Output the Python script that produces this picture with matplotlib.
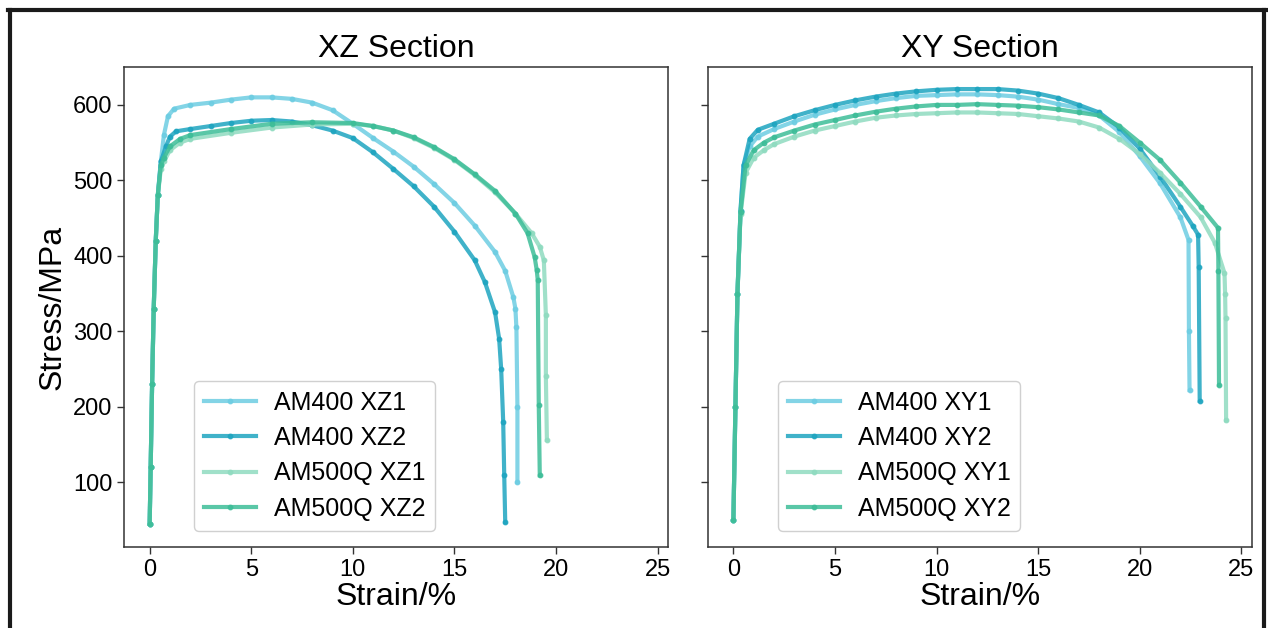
import matplotlib
matplotlib.use("Agg")
from matplotlib import pyplot as plt
from matplotlib.lines import Line2D

plt.rcParams['font.family'] = ['Liberation Sans', 'DejaVu Sans']

# ---- XZ section (strain %, stress MPa) ----
xz1_am400_strain = [0.0, 0.05, 0.12, 0.2, 0.3, 0.4, 0.55, 0.7, 0.9, 1.2, 2, 3, 4, 5, 6, 7, 8, 9, 10, 11, 12, 13, 14, 15, 16, 17, 17.5, 17.9, 18.0, 18.05, 18.1, 18.1]
xz1_am400_stress = [45, 120, 230, 330, 420, 480, 525, 560, 585, 595, 600, 603, 607, 610, 610, 608, 603, 593, 575, 556, 538, 518, 495, 470, 440, 405, 380, 345, 330, 305, 200, 100]

xz2_am400_strain = [0.0, 0.05, 0.12, 0.2, 0.3, 0.4, 0.55, 0.8, 1.0, 1.3, 2, 3, 4, 5, 6, 7, 8, 9, 10, 11, 12, 13, 14, 15, 16, 16.5, 17.0, 17.2, 17.3, 17.4, 17.45, 17.5]
xz2_am400_stress = [45, 120, 230, 330, 420, 480, 525, 545, 558, 565, 568, 572, 576, 579, 580, 578, 573, 566, 556, 537, 515, 492, 465, 432, 394, 365, 325, 290, 250, 180, 110, 47]

xz1_am500q_strain = [0.0, 0.05, 0.12, 0.2, 0.3, 0.4, 0.55, 0.7, 1.0, 1.5, 2, 4, 6, 8, 10, 11, 12, 13, 14, 15, 16, 17, 18, 18.8, 19.2, 19.4, 19.5, 19.5, 19.55]
xz1_am500q_stress = [45, 120, 230, 330, 420, 480, 515, 525, 540, 550, 555, 563, 570, 574, 575, 572, 566, 556, 543, 527, 507, 484, 456, 430, 412, 394, 321, 240, 156]

xz2_am500q_strain = [0.0, 0.05, 0.12, 0.2, 0.3, 0.4, 0.55, 0.7, 1.0, 1.5, 2, 4, 6, 8, 10, 11, 12, 13, 14, 15, 16, 17, 18, 18.6, 18.95, 19.05, 19.1, 19.15, 19.2]
xz2_am500q_stress = [45, 120, 230, 330, 420, 480, 520, 530, 545, 555, 560, 568, 575, 577, 576, 572, 566, 557, 544, 528, 508, 486, 456, 430, 398, 381, 368, 202, 109]

# ---- XY section ----
xy1_am400_strain = [0.0, 0.1, 0.2, 0.35, 0.5, 0.8, 1.2, 2, 3, 4, 5, 6, 7, 8, 9, 10, 11, 12, 13, 14, 15, 16, 17, 18, 19, 20, 21, 22, 22.4, 22.42, 22.45]
xy1_am400_stress = [50, 200, 350, 460, 520, 545, 558, 568, 578, 587, 594, 600, 605, 609, 612, 613, 614, 614, 613, 611, 607, 601, 596, 586, 564, 532, 496, 451, 421, 300, 222]

xy2_am400_strain = [0.0, 0.1, 0.2, 0.35, 0.5, 0.8, 1.2, 2, 3, 4, 5, 6, 7, 8, 9, 10, 11, 12, 13, 14, 15, 16, 17, 18, 19, 20, 21, 22, 22.6, 22.87, 22.9, 22.95]
xy2_am400_stress = [50, 200, 350, 460, 520, 555, 567, 575, 585, 593, 600, 606, 611, 615, 618, 620, 621, 621, 621, 619, 615, 609, 600, 590, 570, 542, 505, 465, 440, 428, 385, 208]

xy1_am500q_strain = [0.0, 0.1, 0.2, 0.35, 0.6, 1.0, 1.5, 2, 3, 4, 5, 6, 7, 8, 9, 10, 11, 12, 13, 14, 15, 16, 17, 18, 19, 20, 21, 22, 23, 23.7, 24.17, 24.2, 24.22, 24.25]
xy1_am500q_stress = [50, 200, 350, 455, 510, 530, 540, 548, 558, 566, 572, 578, 583, 586, 588, 589, 590, 590, 589, 588, 585, 582, 578, 570, 555, 535, 510, 482, 451, 417, 377, 350, 317, 182]

xy2_am500q_strain = [0.0, 0.1, 0.2, 0.35, 0.6, 1.0, 1.5, 2, 3, 4, 5, 6, 7, 8, 9, 10, 11, 12, 13, 14, 15, 16, 17, 18, 19, 20, 21, 22, 23, 23.85, 23.87, 23.9]
xy2_am500q_stress = [50, 200, 350, 458, 520, 540, 550, 557, 566, 574, 580, 586, 591, 595, 598, 600, 600, 601, 600, 599, 597, 594, 590, 586, 572, 550, 527, 497, 465, 437, 380, 229]

colors = ['#6dcde2', '#1ea5c0', '#8fdbc0', '#3dbd98']

fig, axes = plt.subplots(1, 2, figsize=(12.68, 6.28), dpi=100, sharey=True)
fig.subplots_adjust(left=0.098, right=0.987, bottom=0.129, top=0.893, wspace=0.074)

panels = [
    ("XZ Section", "XZ", [(xz1_am400_strain, xz1_am400_stress), (xz2_am400_strain, xz2_am400_stress),
                          (xz1_am500q_strain, xz1_am500q_stress), (xz2_am500q_strain, xz2_am500q_stress)]),
    ("XY Section", "XY", [(xy1_am400_strain, xy1_am400_stress), (xy2_am400_strain, xy2_am400_stress),
                          (xy1_am500q_strain, xy1_am500q_stress), (xy2_am500q_strain, xy2_am500q_stress)]),
]
names = ["AM400 {}1", "AM400 {}2", "AM500Q {}1", "AM500Q {}2"]

for ax, (title, sec, series) in zip(axes, panels):
    for (s, st), c, nm in zip(series, colors, names):
        ax.plot(s, st, color=c, lw=3.0, marker='o', markersize=3.2, alpha=0.85, label=nm.format(sec))
    ax.set_title(title, fontsize=23, pad=7)
    ax.set_xlabel("Strain/%", fontsize=23, labelpad=1)
    ax.set_xlim(-1.25, 25.5)
    ax.set_xticks([0, 5, 10, 15, 20, 25])
    ax.tick_params(labelsize=17, length=5, width=1, color='#333333')
    for sp in ax.spines.values():
        sp.set_color('#333333')
        sp.set_linewidth(1.1)
    ax.legend(loc='lower left', bbox_to_anchor=(0.105, 0.008), fontsize=18,
              handlelength=2.1, handletextpad=0.7, labelspacing=0.45,
              edgecolor='#d0d0d0', framealpha=1.0)

axes[0].set_ylim(14, 650)
axes[0].set_yticks([100, 200, 300, 400, 500, 600])
axes[0].set_ylabel("Stress/MPa", fontsize=23, labelpad=4)

# black frame around the figure
fig.add_artist(Line2D([0.006, 1.0], [0.984, 0.984], transform=fig.transFigure, color='#1a1a1a', lw=3))
fig.add_artist(Line2D([0.008, 0.008], [0.0, 0.984], transform=fig.transFigure, color='#1a1a1a', lw=3))
fig.add_artist(Line2D([0.997, 0.997], [0.0, 0.984], transform=fig.transFigure, color='#1a1a1a', lw=3))

plt.savefig("out.png", dpi=100)
